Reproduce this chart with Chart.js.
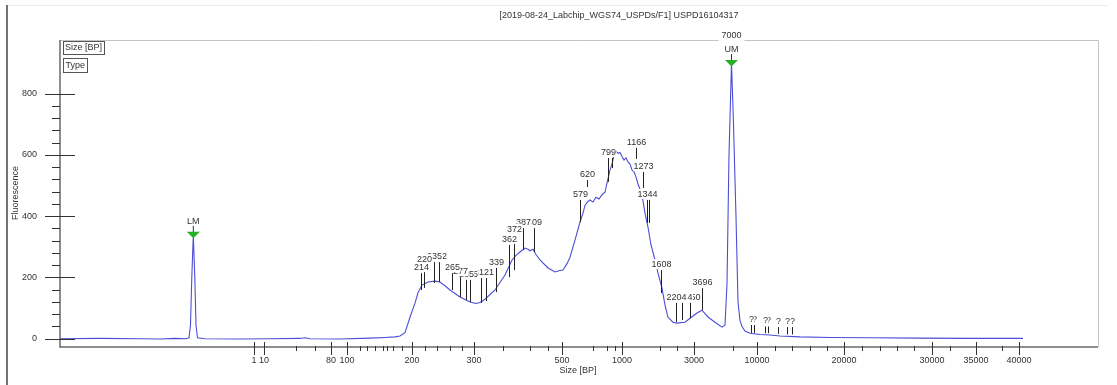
<!DOCTYPE html>
<html>
<head>
<meta charset="utf-8">
<script src="https://cdn.jsdelivr.net/npm/chart.js@4/dist/chart.umd.min.js"></script>
<style>
  body { margin: 0; background: #fff; }
  #wrap { width: 1117px; height: 385px; }
</style>
</head>
<body>
<div id="wrap"><canvas id="trace"></canvas></div>
<script>
// run position (x) vs fluorescence
const curvePos = [0, 40, 80, 100, 115, 126, 129, 130.5, 131.8, 133.3, 134.8, 136, 137.5, 145, 180, 210, 240, 245, 250, 280, 310, 325, 335,
  340, 345, 350, 355, 358, 362, 368, 375, 380, 385, 390, 400, 410, 416, 420, 425, 435, 445, 452, 456, 460, 465, 468, 470, 473, 476, 480,
  488, 495, 499, 503, 507, 510, 515, 520, 523, 525, 528, 530, 533, 536, 539, 542, 545, 547, 550, 552, 554, 556, 558, 560, 562, 564, 566,
  568, 570, 572, 574, 576, 578, 581, 583, 585, 588, 591, 595, 598, 602, 605, 608, 613, 617, 625, 630, 637, 642, 645, 648, 655, 662, 665,
  667, 669, 671.5, 673.5, 676, 678, 680, 682, 685, 690, 700, 710, 720, 740, 770, 810, 860, 910, 963];
const curveVal = [0, 1, 0, -1, 1, 0, 3, 45, 200, 338, 200, 45, 3, 0, -1, 0, 1, 3, 0, -1, 2, 4, 6,
  9, 20, 70, 116, 150, 175, 185, 188, 185, 173, 159, 136, 120, 115, 118, 129, 159, 208, 257, 272, 283, 296, 292, 287, 292, 275, 257,
  231, 218, 222, 224, 245, 266, 322, 381, 410, 436, 448, 453, 446, 462, 456, 470, 478, 508, 551, 570, 599, 612, 605, 608, 595, 583, 590,
  577, 570, 551, 545, 528, 505, 479, 450, 410, 364, 306, 257, 214, 165, 110, 70, 54, 51, 54, 67, 84, 93, 82, 71, 54, 38, 45,
  180, 600, 900, 700, 397, 120, 60, 40, 25, 18, 14, 12, 9, 6, 4, 3, 2, 1, 1];

// size axis
const sizeTickPos = [194, 204, 271, 287, 352, 414, 502, 562, 634, 697, 784, 872, 916, 959];
const sizeTickLabels = ['1', '10', '80', '100', '200', '300', '500', '1000', '3000', '10000', '20000', '30000', '35000', '40000'];
const sizeMinorPos = [236, 255, 300, 307, 315, 323, 327, 333, 342, 365, 377, 390, 402, 443, 470, 488, 533, 547, 555, 600, 617, 673,
  715, 732, 750, 767, 802, 820, 837, 854, 890, 942];
const fluoTicks = [0, 200, 400, 600, 800];

// called peaks
const peakPos = [361, 364, 374, 379, 392, 400, 406, 410, 421, 426, 436, 449, 454, 463, 474, 520, 527, 548, 552, 576, 583, 587, 589,
  601, 616, 622, 630, 642, 691, 694, 705, 708, 718, 727, 732];
const peakLabels = ['214', '220', '235', '252', '265', '277', '285', '295', '312', '321', '339', '362', '372', '387', '409', '579', '620',
  '799', '', '1166', '1273', '1344', '', '1608', '2204', '2474', '2850', '3696', '?', '?', '?', '?', '?', '?', '?'];
const peakTop = [214, 240, 250, 250, 214, 201, 192, 192, 198, 198, 231, 306, 339, 361, 361, 453, 518, 590, 590, 623, 544, 453, 453,
  224, 117, 117, 117, 165, 45, 45, 40, 40, 38, 38, 38];
const peakBottom = [159, 166, 182, 185, 159, 136, 126, 120, 117, 123, 152, 201, 224, 290, 283, 381, 495, 512, 557, 587, 492, 378, 378,
  149, 55, 61, 67, 94, 19, 19, 18, 18, 16, 14, 14];

// markers
const markerPos = [133.3, 671.5];
const markerVal = [339, 900];
const markerLabels = ['LM', 'UM'];
const markerSizes = ['', '7000'];

const FONT = '9px "Liberation Sans", Arial, sans-serif';

const decorPlugin = {
  id: 'decor',
  afterDatasetsDraw(chart) {
    const { ctx, chartArea: a } = chart;
    const xs = chart.scales.x, ys = chart.scales.y;
    ctx.save();

    // frame
    ctx.strokeStyle = '#ececec';
    ctx.lineWidth = 1;
    ctx.beginPath(); ctx.moveTo(7, 5.5); ctx.lineTo(1108, 5.5); ctx.stroke();
    ctx.strokeStyle = '#444';
    ctx.lineWidth = 1.5;
    ctx.beginPath(); ctx.moveTo(7, 5); ctx.lineTo(7, 385); ctx.stroke();

    ctx.strokeStyle = '#c4c4c4';
    ctx.lineWidth = 1;
    ctx.beginPath();
    ctx.moveTo(a.left, a.top + 0.5); ctx.lineTo(a.right + 0.5, a.top + 0.5); ctx.lineTo(a.right + 0.5, a.bottom);
    ctx.stroke();

    ctx.strokeStyle = '#6a6a6a';
    ctx.lineWidth = 1.5;
    ctx.beginPath();
    ctx.moveTo(a.left, a.top); ctx.lineTo(a.left, a.bottom); ctx.lineTo(a.right, a.bottom);
    ctx.stroke();

    // y ticks
    ctx.strokeStyle = '#333';
    ctx.lineWidth = 1;
    for (let v = 0; v <= 800; v += 40) {
      const py = Math.round(ys.getPixelForValue(v)) + 0.5;
      ctx.beginPath();
      if (fluoTicks.includes(v)) { ctx.moveTo(a.left - 15, py); ctx.lineTo(a.left + 15, py); }
      else { ctx.moveTo(a.left - 8, py); ctx.lineTo(a.left, py); }
      ctx.stroke();
    }
    // x ticks
    sizeTickPos.forEach(p => {
      const px = Math.round(xs.getPixelForValue(p)) + 0.5;
      ctx.beginPath(); ctx.moveTo(px, a.bottom - 5); ctx.lineTo(px, a.bottom + 8); ctx.stroke();
    });
    sizeMinorPos.forEach(p => {
      const px = Math.round(xs.getPixelForValue(p)) + 0.5;
      ctx.beginPath(); ctx.moveTo(px, a.bottom - 1); ctx.lineTo(px, a.bottom + 4); ctx.stroke();
    });

    // peak annotations
    ctx.font = FONT;
    ctx.textAlign = 'center';
    ctx.textBaseline = 'bottom';
    for (let i = peakPos.length - 1; i >= 0; i--) {
      const px = Math.round(xs.getPixelForValue(peakPos[i])) + 0.5;
      const top = ys.getPixelForValue(peakTop[i]);
      const bot = ys.getPixelForValue(peakBottom[i]);
      ctx.strokeStyle = '#222';
      ctx.beginPath(); ctx.moveTo(px, bot); ctx.lineTo(px, top); ctx.stroke();
      if (peakLabels[i]) {
        const w = ctx.measureText(peakLabels[i]).width;
        ctx.fillStyle = '#fff';
        ctx.fillRect(px - w / 2 - 0.5, top - 11, w + 1, 10);
        ctx.fillStyle = '#333';
        ctx.fillText(peakLabels[i], px, top - 1);
      }
    }

    // LM / UM markers
    markerPos.forEach((p, i) => {
      const px = xs.getPixelForValue(p);
      const py = ys.getPixelForValue(markerVal[i]);
      ctx.strokeStyle = '#333';
      ctx.beginPath(); ctx.moveTo(px, py); ctx.lineTo(px, py - 9); ctx.stroke();
      ctx.fillStyle = '#26b026';
      ctx.beginPath();
      ctx.moveTo(px - 6.5, py - 3); ctx.lineTo(px + 6.5, py - 3); ctx.lineTo(px + 1, py + 2.5);
      ctx.lineTo(px - 1, py + 2.5); ctx.closePath(); ctx.fill();
      ctx.fillStyle = '#333';
      ctx.fillText(markerLabels[i], px, py - 9);
      if (markerSizes[i]) {
        const w = ctx.measureText(markerSizes[i]).width;
        ctx.fillStyle = '#fff';
        ctx.fillRect(px - w / 2 - 3, py - 35, w + 6, 13);
        ctx.fillStyle = '#333';
        ctx.fillText(markerSizes[i], px, py - 23);
      }
    });

    // legend boxes
    ctx.textAlign = 'left';
    ctx.textBaseline = 'middle';
    ctx.strokeStyle = '#555';
    ctx.fillStyle = '#333';
    ctx.strokeRect(63.5, 41.5, 41, 13);
    ctx.fillText('Size [BP]', 65, 48);
    ctx.strokeRect(63.5, 58.5, 24, 14);
    ctx.fillText('Type', 65.5, 66);

    // titles
    ctx.textAlign = 'center';
    ctx.fillText('[2019-08-24_Labchip_WGS74_USPDs/F1] USPD16104317', 619, 16);
    ctx.fillText('Size [BP]', 578, 371);
    ctx.translate(16, 193);
    ctx.rotate(-Math.PI / 2);
    ctx.fillText('Fluorescence', 0, 0);
    ctx.restore();
  }
};

new Chart(document.getElementById('trace').getContext('2d'), {
  type: 'line',
  data: {
    datasets: [{
      data: curvePos.map((x, i) => ({ x: x, y: curveVal[i] })),
      borderColor: '#4d4dd6',
      borderWidth: 1.1,
      pointRadius: 0,
      tension: 0,
      fill: false,
    }],
  },
  options: {
    responsive: true,
    maintainAspectRatio: false,
    animation: false,
    layout: { padding: { left: 0, top: 40, right: 19, bottom: 0 } },
    plugins: { legend: { display: false }, tooltip: { enabled: false } },
    scales: {
      x: {
        type: 'linear',
        min: 0,
        max: 1038,
        grid: { display: false },
        border: { display: false },
        afterBuildTicks: (s) => { s.ticks = sizeTickPos.map(v => ({ value: v })); },
        afterFit: (s) => { s.height = 38; },
        ticks: {
          autoSkip: false,
          maxRotation: 0,
          padding: 0,
          color: '#333',
          font: { family: '"Liberation Sans", Arial, sans-serif', size: 9 },
          callback: (v) => sizeTickLabels[sizeTickPos.indexOf(v)],
        },
      },
      y: {
        min: -27,
        max: 975,
        grid: { display: false },
        border: { display: false },
        afterBuildTicks: (s) => { s.ticks = fluoTicks.map(v => ({ value: v })); },
        afterFit: (s) => { s.width = 60; },
        ticks: {
          padding: 15,
          color: '#333',
          font: { family: '"Liberation Sans", Arial, sans-serif', size: 9 },
        },
      },
    },
  },
  plugins: [decorPlugin],
});
</script>
</body>
</html>
